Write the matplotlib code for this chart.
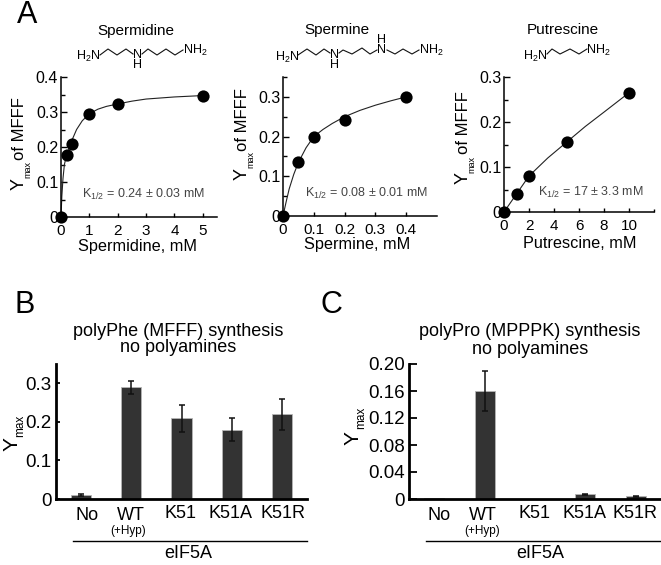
import matplotlib
matplotlib.use('Agg')
import matplotlib.pyplot as plt
from matplotlib.lines import Line2D

plt.rcParams['font.family'] = ['Liberation Sans', 'DejaVu Sans']
plt.rcParams['mathtext.fontset'] = 'custom'
plt.rcParams['mathtext.rm'] = 'Liberation Sans'
plt.rcParams['mathtext.default'] = 'rm'

W, H = 661, 565

# Panel A data
spd_x = [0, 0.2, 0.4, 1, 2, 5]
spd_y = [0, 0.178, 0.21, 0.295, 0.323, 0.347]
spd_fit_x = [0, 0.03, 0.07, 0.12, 0.2, 0.3, 0.4, 0.55, 0.75, 1, 1.3, 1.6, 2, 2.5, 3, 4, 5]
spd_fit_y = [0, 0.06, 0.11, 0.15, 0.178, 0.197, 0.222, 0.25, 0.275, 0.295, 0.308, 0.316, 0.323, 0.331, 0.337, 0.343, 0.347]

spm_x = [0, 0.05, 0.1, 0.2, 0.4]
spm_y = [0, 0.135, 0.2, 0.242, 0.3]
spm_fit_x = [0, 0.01, 0.02, 0.035, 0.05, 0.075, 0.1, 0.13, 0.16, 0.2, 0.25, 0.3, 0.35, 0.4]
spm_fit_y = [0, 0.035, 0.068, 0.105, 0.135, 0.172, 0.2, 0.218, 0.233, 0.25, 0.266, 0.279, 0.29, 0.3]

put_x = [0, 1, 2, 5, 10]
put_y = [0, 0.04, 0.08, 0.155, 0.265]
put_fit_x = [0, 1, 2, 3.5, 5, 6.5, 8, 10]
put_fit_y = [0, 0.04, 0.08, 0.12, 0.155, 0.19, 0.222, 0.265]

# Panels B, C data
bar_labels = ['No', 'WT', 'K51', 'K51A', 'K51R']
phe_vals = [0.01, 0.29, 0.21, 0.18, 0.22]
phe_errs = [0.002, 0.017, 0.035, 0.03, 0.04]
pro_vals = [0.001, 0.16, 0.0005, 0.007, 0.004]
pro_errs = [0, 0.03, 0, 0.001, 0.001]

fig = plt.figure(figsize=(W / 100, H / 100), dpi=100)


def make_ax(x0, x1, ytop, ybot):
    return fig.add_axes([x0 / W, 1 - ybot / H, (x1 - x0) / W, (ybot - ytop) / H])


def txt(x, y, s, size, **kw):
    kw.setdefault('ha', 'center')
    kw.setdefault('va', 'center')
    fig.text(x / W, 1 - y / H, s, fontsize=size, **kw)


def stroke(pts, lw=0.8, color='#111111'):
    fig.add_artist(Line2D([p[0] / W for p in pts], [1 - p[1] / H for p in pts],
                          lw=lw, color=color, transform=fig.transFigure))


def style(ax, lw=1.0):
    for s in ('top', 'right'):
        ax.spines[s].set_visible(False)
    ax.spines['left'].set_linewidth(lw)
    ax.spines['bottom'].set_linewidth(lw)
    ax.patch.set_alpha(0)


def curve_panel(box, xs, ys, fx, fy, xlim, ylim, xt, xtl, yt, ytl, yminor, xminor=None):
    ax = make_ax(*box)
    style(ax, lw=1.1)
    ax.plot(fx, fy, color='#222222', lw=0.8, clip_on=False)
    ax.plot(xs, ys, 'o', color='black', ms=8.8, mew=0, clip_on=False, zorder=5)
    ax.set_xlim(*xlim)
    ax.set_ylim(*ylim)
    ax.set_xticks(xt)
    ax.set_xticklabels(xtl)
    ax.set_yticks(yt)
    ax.set_yticklabels(ytl)
    ax.set_yticks(yminor, minor=True)
    if xminor:
        ax.set_xticks(xminor, minor=True)
    ax.tick_params(axis='y', which='major', direction='in', length=4, width=1, labelsize=11.5, pad=2)
    ax.tick_params(axis='y', which='minor', direction='in', length=3, width=1)
    ax.tick_params(axis='x', which='major', direction='in', length=3, width=1, labelsize=11, pad=5)
    ax.tick_params(axis='x', which='minor', direction='in', length=2, width=1)
    return ax


curve_panel((61, 217, 77, 217), spd_x, spd_y, spd_fit_x, spd_fit_y, (0, 5.5), (0, 0.4),
            [0, 1, 2, 3, 4, 5], ['0', '1', '2', '3', '4', '5'],
            [0, 0.1, 0.2, 0.3, 0.4], ['0', '0.1', '0.2', '0.3', '0.4'],
            [0.05, 0.15, 0.25, 0.35])
curve_panel((283, 437, 77, 216), spm_x, spm_y, spm_fit_x, spm_fit_y, (0, 0.5), (0, 0.35),
            [0, 0.1, 0.2, 0.3, 0.4], ['0', '0.1', '0.2', '0.3', '0.4'],
            [0, 0.1, 0.2, 0.3], ['0', '0.1', '0.2', '0.3'],
            [0.05, 0.15, 0.25, 0.35])
curve_panel((504, 654, 77, 212), put_x, put_y, put_fit_x, put_fit_y, (0, 12), (0, 0.3),
            [0, 2, 4, 6, 8, 10], ['0', '2', '4', '6', '8', '10'],
            [0, 0.1, 0.2, 0.3], ['0', '0.1', '0.2', '0.3'],
            [0.05, 0.15, 0.25], [12])


def bar_panel(box, vals, errs, xlim, ylim, yt, ytl, ticklen):
    ax = make_ax(*box)
    style(ax, lw=2.0)
    xpos = list(range(len(vals)))
    ax.bar(xpos, vals, width=0.4, color='#333333', edgecolor='#b5b5b5', linewidth=0.6, zorder=2)
    for x, v, e in zip(xpos, vals, errs):
        if e > 0:
            ax.errorbar(x, v, yerr=e, color='#111111', lw=1.1, capsize=2.5, capthick=1.1, zorder=3)
    ax.set_xlim(*xlim)
    ax.set_ylim(*ylim)
    ax.set_xticks([])
    ax.set_yticks(yt)
    ax.set_yticklabels(ytl)
    ax.tick_params(axis='y', direction='in', length=ticklen, width=1.3, labelsize=13.5, pad=3)
    return ax


bar_panel((56, 307, 364, 499), phe_vals, phe_errs, (-0.5, 4.5), (0, 0.35),
          [0, 0.1, 0.2, 0.3], ['0', '0.1', '0.2', '0.3'], 3)
bar_panel((409, 661, 364, 499), pro_vals, pro_errs, (-0.5, 4.5), (0, 0.20),
          [0, 0.04, 0.08, 0.12, 0.16, 0.20], ['0', '0.04', '0.08', '0.12', '0.16', '0.20'], 6)

# Panel letters
txt(27, 15, 'A', 22)
txt(25, 305, 'B', 22)
txt(331, 305, 'C', 22)

# Panel A text
txt(136, 31, 'Spermidine', 11)
txt(337, 30, 'Spermine', 11)
txt(563, 30, 'Putrescine', 11)
txt(138, 246, 'Spermidine, mM', 11.7)
txt(357, 245, 'Spermine, mM', 11.7)
txt(580, 243, 'Putrescine, mM', 11.7)


def ymax_label(x, y, size=13, sub=6.5, dx=9, dy=14):
    txt(x, y, 'Y', size, rotation=90)
    txt(x + dx, y - dy, 'max', sub, rotation=90)


ymax_label(19, 184)
txt(19, 129, 'of MFFF', 12, rotation=90)
ymax_label(242, 174)
txt(242, 120, 'of MFFF', 12, rotation=90)
ymax_label(463, 178)
txt(463, 123, 'of MFFF', 12, rotation=90)
txt(143, 194, 'K$_{1/2}$ = 0.24 ± 0.03 mM', 9, color='#444444')
txt(366, 193, 'K$_{1/2}$ = 0.08 ± 0.01 mM', 9, color='#444444')
txt(591, 192, 'K$_{1/2}$ = 17 ± 3.3 mM', 9, color='#444444')

# Chemical structures
cs = 9
txt(88, 56, 'H$_2$N', cs)
txt(137, 60, 'N\nH', cs, linespacing=0.85)
txt(195, 50, 'NH$_2$', cs)
stroke([(100, 55), (108, 49), (117, 55), (126, 49), (133, 54)])
stroke([(142, 54), (148, 49), (157, 55), (166, 49), (175, 55), (183, 50)])

txt(287, 57, 'H$_2$N', cs)
txt(334, 60, 'N\nH', cs, linespacing=0.85)
txt(382, 45, 'H\nN', cs, linespacing=0.85)
txt(431, 50, 'NH$_2$', cs)
stroke([(298, 55), (307, 49), (316, 55), (324, 49), (330, 53)])
stroke([(339, 53), (343, 50), (352, 54), (362, 48), (370, 54), (377, 50)])
stroke([(387, 50), (395, 54), (403, 49), (412, 54), (419, 50)])

txt(535, 56, 'H$_2$N', cs)
txt(598, 50, 'NH$_2$', cs)
stroke([(547, 54), (552, 49), (560, 54), (570, 49), (579, 54), (587, 49)])

# Panel B text
txt(178, 331, 'polyPhe (MFFF) synthesis', 13)
txt(178, 348, 'no polyamines', 13)
ymax_label(12, 444, size=15, sub=8.5, dx=8, dy=18)
for lab, x, y in zip(bar_labels, [87, 131, 180, 230, 283], [515, 515, 513, 513, 513]):
    txt(x, y, lab, 13)
txt(128, 531, '(+Hyp)', 8.5)
stroke([(73, 541), (307, 541)], lw=1.0, color='black')
txt(188, 553, 'eIF5A', 13)

# Panel C text
txt(530, 332, 'polyPro (MPPPK) synthesis', 13)
txt(530, 350, 'no polyamines', 13)
ymax_label(353, 438, size=15, sub=8.5, dx=8, dy=20)
for lab, x, y in zip(bar_labels, [439, 483, 535, 584, 635], [515, 515, 513, 513, 513]):
    txt(x, y, lab, 13)
txt(482, 531, '(+Hyp)', 8.5)
stroke([(426, 541), (660, 541)], lw=1.0, color='black')
txt(540, 553, 'eIF5A', 13)

fig.savefig('out.png', dpi=100)
